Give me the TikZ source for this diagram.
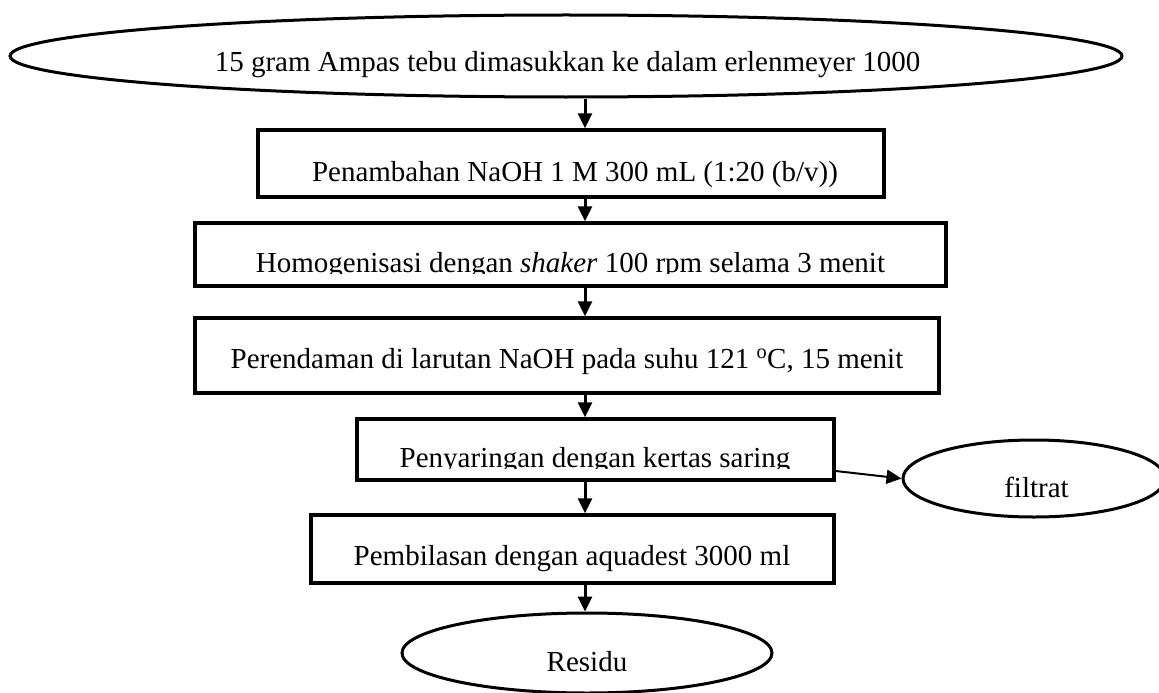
\documentclass[tikz,border=0pt]{standalone}
\usepackage{fontspec}
\setmainfont{Liberation Serif}
\usetikzlibrary{arrows.meta,shapes.geometric}
\tikzset{
  boxstep/.style={draw, line width=3.5pt, rectangle, inner sep=0pt},
  ovalstep/.style={draw, line width=3pt, ellipse, inner sep=0pt},
  lbl/.style={anchor=base, inner sep=0pt, font=\fontsize{29}{34}\selectfont},
  flow/.style={line width=3pt, -{Triangle[length=15pt,width=14pt]}},
  sideflow/.style={line width=2pt, -{Triangle[length=15pt,width=14pt]}}
}
\begin{document}
\begin{tikzpicture}[x=1pt,y=-1pt]
\clip (0,0) rectangle (1159,693);
\fill[white] (0,0) rectangle (1159,693);
% shapes
\node[ovalstep, minimum width=1112pt, minimum height=82pt] (top) at (566,56) {};
\node[boxstep, minimum width=626pt, minimum height=67pt] (b1) at (571,163.5) {};
\node[boxstep, minimum width=751pt, minimum height=63pt] (b2) at (570.5,254.5) {};
\node[boxstep, minimum width=744pt, minimum height=75pt] (b3) at (567,355.5) {};
\node[boxstep, minimum width=477pt, minimum height=61pt] (b4) at (595.5,449.5) {};
\node[boxstep, minimum width=523pt, minimum height=68pt] (b5) at (572.5,549) {};
\node[ovalstep, minimum width=262pt, minimum height=77pt] (fil) at (1034,478.5) {};
\node[ovalstep, minimum width=370pt, minimum height=80pt] (res) at (587,653) {};
% texts
\node[lbl] (t0) at (567.5,72) {15 gram Ampas tebu dimasukkan ke dalam erlenmeyer 1000};
\node[lbl] (t1) at (575,181) {Penambahan NaOH 1 M 300 mL (1:20 (b/v))};
\begin{scope}
\clip (0,0) rectangle (1159,273.5);
\node[lbl] (t2) at (570.5,272) {Homogenisasi dengan \textit{shaker} 100 rpm selama 3 menit};
\end{scope}
\node[lbl] (t3) at (567,368) {Perendaman di larutan NaOH pada suhu 121 \textsuperscript{o}C, 15 menit};
\begin{scope}
\clip (0,0) rectangle (1159,468);
\node[lbl] (t4) at (595,467) {Penyaringan dengan kertas saring};
\end{scope}
\node[lbl] (t5) at (572,565) {Pembilasan dengan aquadest 3000 ml};
\node[lbl] (t6) at (1036.5,497) {filtrat};
\node[lbl] (t7) at (587,671) {Residu};
% connectors
\coordinate (spine) at (585,0);
\draw[flow] (top.south -| spine) -- (b1.north -| spine);
\draw[flow] (b1.south -| spine) -- (b2.north -| spine);
\draw[flow] (b2.south -| spine) -- (b3.north -| spine);
\draw[flow] (b3.south -| spine) -- (b4.north -| spine);
\draw[flow] (b4.south -| spine) -- (b5.north -| spine);
\draw[flow] (b5.south -| spine) -- (res.north -| spine);
\draw[sideflow] ([yshift=-21.5pt]b4.east) -- (fil.west);
\end{tikzpicture}
\end{document}
